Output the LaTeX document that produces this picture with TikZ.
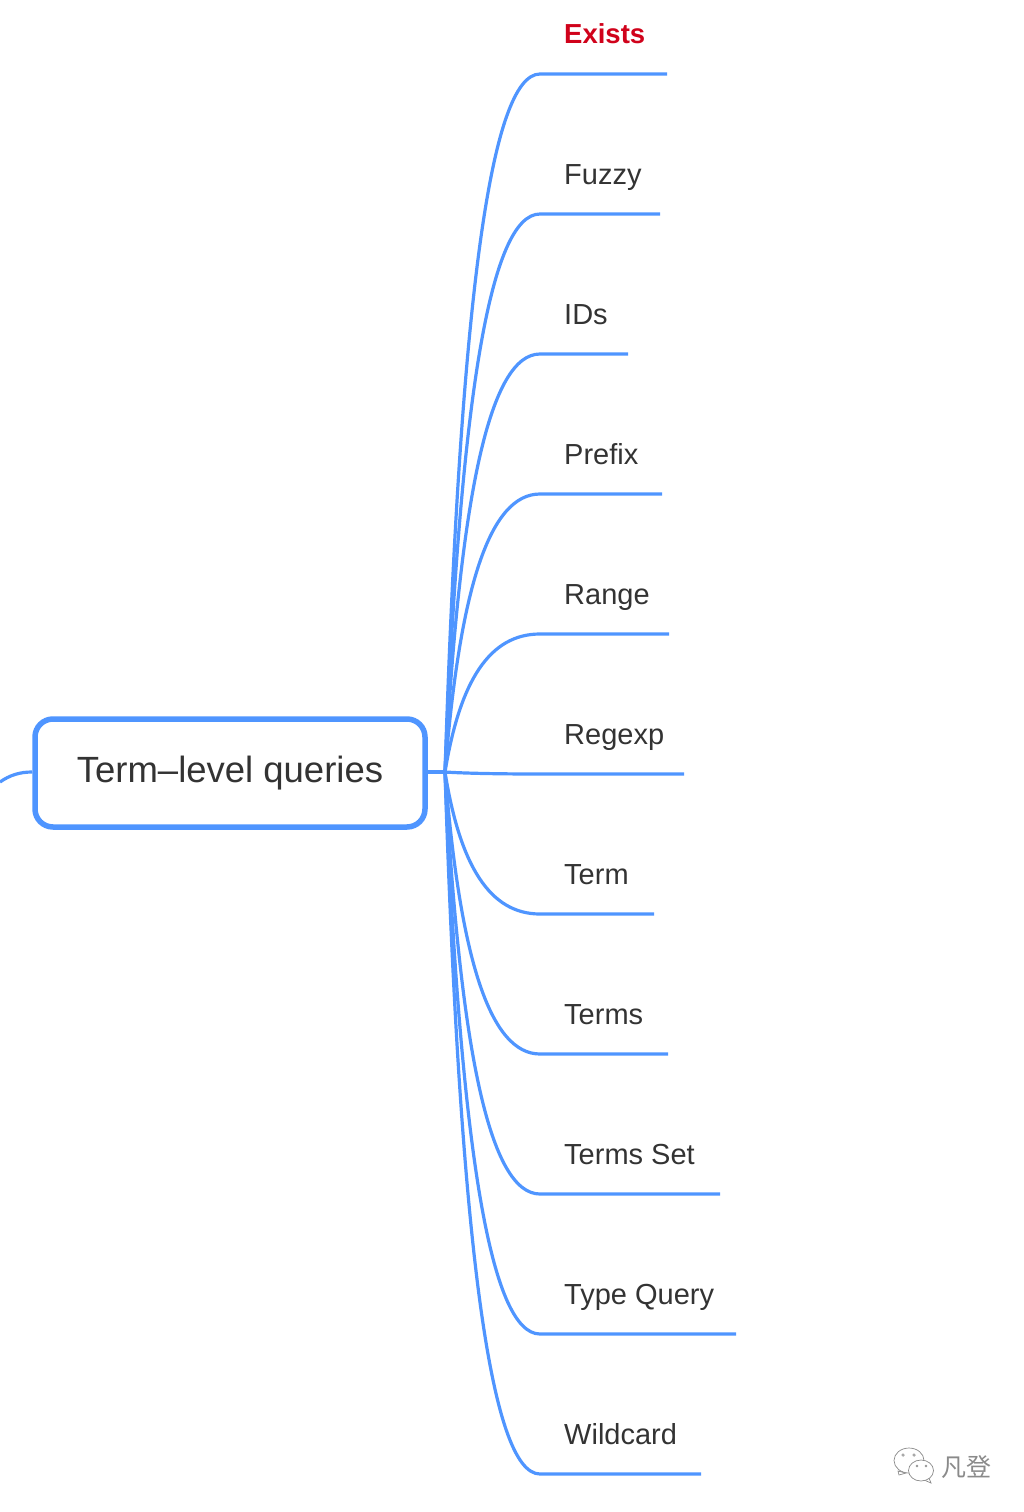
\documentclass[tikz,border=0pt]{standalone}
\usepackage{fontspec}
\setmainfont{Liberation Sans}
\newfontfamily\cjk{Noto Sans CJK SC}
\usepackage{xcolor}
\usetikzlibrary{positioning}
\definecolor{mapblue}{HTML}{4F95FF}
\definecolor{maptext}{HTML}{333333}
\definecolor{mapred}{HTML}{D0021B}
\definecolor{markgray}{HTML}{8A8A8A}

\begin{document}
\begin{tikzpicture}[
    x=1pt, y=-1pt,
    rootbox/.style={draw=mapblue, line width=5.5pt, rounded corners=18pt, minimum width=390pt, minimum height=108pt, inner sep=0pt, text=maptext, font=\fontsize{36.5}{40}\selectfont},
    leaf/.style={anchor=base west, inner sep=0pt, text=maptext, font=\fontsize{29}{32}\selectfont},
    hotleaf/.style={leaf, text=mapred, font=\fontsize{27.5}{32}\selectfont\bfseries},
    branch/.style={draw=mapblue, line width=3.2pt},
    bubble/.style={draw=markgray, line width=0.7pt, fill=white},
    eye/.style={draw=markgray, line width=0.6pt}
]
    \useasboundingbox (0,0) rectangle (1024,1512);

    % root
    \node[rootbox] (root) at (230,773) {Term--level queries};
    \coordinate (hub) at (445,772);
    \coordinate (parent) at (0,782);
    \draw[branch] (root.east |- hub) -- (hub);
    \draw[branch] (parent) .. controls (10,775) and (20,772) .. (root.west |- hub);

    % labels
    \node[hotleaf] (exists) at (564,44) {Exists};
    \node[leaf] (fuzzy) at (564,184) {Fuzzy};
    \node[leaf] (ids) at (564,324) {IDs};
    \node[leaf] (prefix) at (564,464) {Prefix};
    \node[leaf] (range) at (564,604) {Range};
    \node[leaf] (regexp) at (564,744) {Regexp};
    \node[leaf] (term) at (564,884) {Term};
    \node[leaf] (terms) at (564,1024) {Terms};
    \node[leaf] (termsset) at (564,1164) {Terms Set};
    \node[leaf] (typequery) at (564,1304) {Type Query};
    \node[leaf] (wildcard) at (564,1444) {Wildcard};

    % line ends
    \coordinate (existsend) at (667,74);
    \coordinate (fuzzyend) at (660,214);
    \coordinate (idsend) at (628,354);
    \coordinate (prefixend) at (662,494);
    \coordinate (rangeend) at (669,634);
    \coordinate (regexpend) at (684,774);
    \coordinate (termend) at (654,914);
    \coordinate (termsend) at (668,1054);
    \coordinate (termssetend) at (720,1194);
    \coordinate (typequeryend) at (736,1334);
    \coordinate (wildcardend) at (701,1474);

    % branches
    \draw[branch] (hub) .. controls (460,307) and (490,74) .. (540,74) -- (existsend);
    \draw[branch] (hub) .. controls (460,400) and (490,214) .. (540,214) -- (fuzzyend);
    \draw[branch] (hub) .. controls (460,493) and (490,354) .. (540,354) -- (idsend);
    \draw[branch] (hub) .. controls (460,586) and (490,494) .. (540,494) -- (prefixend);
    \draw[branch] (hub) .. controls (460,680) and (490,634) .. (540,634) -- (rangeend);
    \draw[branch] (hub) .. controls (460,773) and (490,774) .. (540,774) -- (regexpend);
    \draw[branch] (hub) .. controls (460,866) and (490,914) .. (540,914) -- (termend);
    \draw[branch] (hub) .. controls (460,959) and (490,1054) .. (540,1054) -- (termsend);
    \draw[branch] (hub) .. controls (460,1052) and (490,1194) .. (540,1194) -- (termssetend);
    \draw[branch] (hub) .. controls (460,1145) and (490,1334) .. (540,1334) -- (typequeryend);
    \draw[branch] (hub) .. controls (460,1238) and (490,1474) .. (540,1474) -- (wildcardend);

    % watermark
    \draw[bubble] (898,1471) -- (899,1475) -- (906,1473) -- cycle;
    \draw[bubble] (909,1460.5) ellipse (15pt and 12.5pt);
    \draw[bubble] (929,1478) -- (931,1483) -- (923,1479.5) -- cycle;
    \draw[bubble] (921,1470.5) ellipse (12.5pt and 10.5pt);
    \draw[eye] (903,1455) circle (1.3pt);
    \draw[eye] (914,1455) circle (1.3pt);
    \draw[eye] (917,1466) circle (1pt);
    \draw[eye] (926,1466) circle (1pt);
    \node[anchor=west, inner sep=0pt, text=markgray, font=\cjk\fontsize{25}{28}\selectfont] (mark) at (941,1467) {凡登};
\end{tikzpicture}
\end{document}
